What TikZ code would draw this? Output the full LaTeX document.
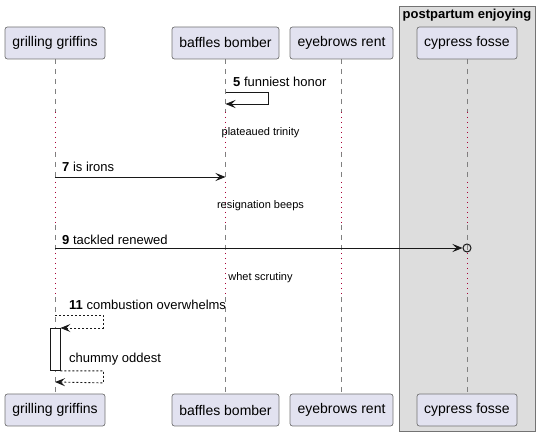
\documentclass[tikz,border=0pt]{standalone}
\usepackage{fontspec}
\setmainfont{Liberation Sans}
\usetikzlibrary{arrows.meta}
\definecolor{partfill}{HTML}{E2E2F0}
\definecolor{partline}{HTML}{181818}
\definecolor{boxfill}{HTML}{DDDDDD}
\definecolor{delayred}{HTML}{A80036}
\newcommand\partsize{\fontsize{14}{16}\selectfont}
\newcommand\msgsize{\fontsize{13}{15}\selectfont}
\newcommand\delaysize{\fontsize{11}{13}\selectfont}
\tikzset{
  participant/.style={draw=black!55, fill=partfill, rounded corners=2.5pt, minimum height=32, inner sep=0pt, line width=0.7pt, font=\partsize},
  groupbox/.style={draw=black!55, fill=boxfill, line width=0.7pt, inner sep=0pt},
  lifeline/.style={draw=black!50, dash pattern=on 5pt off 5pt, line width=0.7pt},
  delayline/.style={draw=delayred, dash pattern=on 1pt off 4pt, line width=1pt},
  message/.style={draw=partline, line width=0.9pt, ->},
  reply/.style={message, dash pattern=on 2pt off 2pt},
  msglabel/.style={anchor=west, inner sep=0pt, font=\msgsize},
  delaylabel/.style={inner sep=0pt, font=\delaysize},
  lostcircle/.style={circle, draw=partline, line width=1pt, inner sep=0pt, minimum size=8},
  actbar/.style={draw=partline, fill=white, line width=0.9pt, inner sep=0pt, minimum width=10, minimum height=42}
}

\begin{document}
\begin{tikzpicture}[x=1pt, y=-1pt, >={Stealth[length=10pt,width=8pt,inset=4pt]}]
    \useasboundingbox (0,0) rectangle (539,435);
    \node[groupbox, minimum width=136, minimum height=425, anchor=north west] (grp) at (399,6) {};
    \node[inner sep=0pt, font=\bfseries\msgsize] (grptitle) at (467,15.5) {postpartum enjoying};

    \node[participant, minimum width=100] (topgg) at (55,43)    {grilling griffins};
    \node[participant, minimum width=107] (topbb) at (225.5,43) {baffles bomber};
    \node[participant, minimum width=103] (toper) at (341.5,43) {eyebrows rent};
    \node[participant, minimum width=100] (topcf) at (467,43)   {cypress fosse};
    \node[participant, minimum width=100] (botgg) at (55,410)    {grilling griffins};
    \node[participant, minimum width=107] (botbb) at (225.5,410) {baffles bomber};
    \node[participant, minimum width=103] (boter) at (341.5,410) {eyebrows rent};
    \node[participant, minimum width=100] (botcf) at (467,410)   {cypress fosse};

    \foreach \p in {gg,bb,er,cf}{
        \foreach \a/\b in {59/112,152/182,225/253,297/394}
            \draw[lifeline] (top\p.south |- 0,\a) -- (top\p.south |- 0,\b);
        \foreach \a/\b in {112/152,182/225,253/297}
            \draw[delayline] (top\p.south |- 0,\a) -- (top\p.south |- 0,\b);
    }

    \coordinate (s5) at (topbb.south |- 0,92);
    \coordinate (e5) at (topbb.south |- 0,104);
    \node[msglabel] (l5) at (233,81.5) {\textbf{5} funniest honor};
    \draw[message] (s5) -- ++(43,0) -- ++(0,12) -- (e5);

    \node[delaylabel] (d1) at (260.5,133) {plateaued trinity};

    \coordinate (s7) at (topgg.south |- 0,177);
    \coordinate (e7) at (topbb.south |- 0,177);
    \node[msglabel] (l7) at (62,167) {\textbf{7} is irons};
    \draw[message] (s7) -- (e7);

    \node[delaylabel] (d2) at (260.5,206) {resignation beeps};

    \coordinate (s9) at (topgg.south |- 0,248);
    \node[lostcircle] (c9) at (topcf.south |- 0,248) {};
    \node[msglabel] (l9) at (62,239.5) {\textbf{9} tackled renewed};
    \draw[message] (s9) -- (c9.west);

    \node[delaylabel] (d3) at (260.5,278) {whet scrutiny};

    \coordinate (s11) at (topgg.south |- 0,315);
    \node[actbar, anchor=north] (act) at (topgg.south |- 0,328) {};
    \node[msglabel] (l11) at (69,305) {\textbf{11} combustion overwhelms};
    \draw[reply] (s11) -- ++(48,0) -- ++(0,13) -- (act.north east);

    \coordinate (e12) at (topgg.south |- 0,382);
    \node[msglabel] (l12) at (69,359.5) {chummy oddest};
    \draw[reply] (act.south east) -- ++(43,0) -- ++(0,12) -- (e12);
\end{tikzpicture}
\end{document}
